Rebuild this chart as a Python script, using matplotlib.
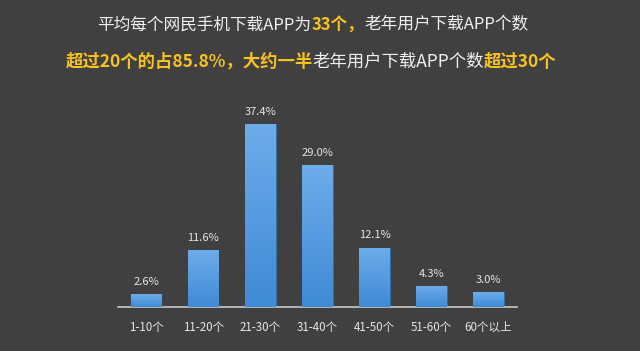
import matplotlib.pyplot as plt
import numpy as np
from matplotlib.colors import LinearSegmentedColormap

plt.rcParams['font.family'] = ['Noto Sans CJK SC', 'DejaVu Sans']

# ---- data ----
categories = ['1-10个', '11-20个', '21-30个', '31-40个', '41-50个', '51-60个', '60个以上']
shares = [2.6, 11.6, 37.4, 29.0, 12.1, 4.3, 3.0]
value_labels = ['2.6%', '11.6%', '37.4%', '29.0%', '12.1%', '4.3%', '3.0%']

BG = '#404040'
YELLOW = '#f7c21e'
WHITE = '#f0f0f0'

fig = plt.figure(figsize=(6.4, 3.51), dpi=100, facecolor=BG)
ax = fig.add_axes([0.184, 0.1254, 0.624, 0.5576])
ax.set_facecolor(BG)

x = np.arange(len(categories))
width = 0.53
bars = ax.bar(x, shares, width=width, color='#4a95da', edgecolor='#2f6fae', linewidth=0.6, zorder=2)

# vertical gradient inside each bar
grad = LinearSegmentedColormap.from_list('g', ['#3f8bd5', '#6dacea'])
gimg = np.linspace(0, 1, 100).reshape(-1, 1)
for b in bars:
    x0, w, h = b.get_x(), b.get_width(), b.get_height()
    im = ax.imshow(gimg, cmap=grad, origin='lower', aspect='auto',
                   extent=(x0, x0 + w, 0, h), zorder=3)
    im.set_clip_path(b)

for xi, v, lab in zip(x, shares, value_labels):
    ax.text(xi, v + 1.5, lab, ha='center', va='bottom', color='#e6e6e6', fontsize=8)

ax.set_xlim(-0.5, 6.5)
ax.set_ylim(0, 40)
for s in ['top', 'right', 'left']:
    ax.spines[s].set_visible(False)
ax.spines['bottom'].set_color('#c8c8c8')
ax.spines['bottom'].set_linewidth(1.2)
ax.set_yticks([])
ax.set_xticks(x)
ax.set_xticklabels(categories, color='#e6e6e6', fontsize=8.3)
ax.tick_params(axis='x', length=0, pad=10)

# ---- title with mixed colours ----
renderer = fig.canvas.get_renderer()


def draw_line(segments, y, size, center_px):
    texts = []
    for txt, col, wt in segments:
        t = fig.text(0, y, txt, color=col, fontsize=size, fontweight=wt,
                     va='center', ha='left')
        texts.append(t)
    widths = [t.get_window_extent(renderer).width for t in texts]
    total = sum(widths)
    fw = fig.bbox.width
    xpos = center_px - total / 2
    for t, w in zip(texts, widths):
        t.set_x(xpos / fw)
        xpos += w


draw_line([('平均每个网民手机下载APP为', WHITE, 'normal'),
           ('33个，', YELLOW, 'bold'),
           ('老年用户下载APP个数', WHITE, 'normal')], 1 - 25 / 351, 12, 313)
draw_line([('超过20个的占85.8%，大约一半', YELLOW, 'bold'),
           ('老年用户下载APP个数', WHITE, 'normal'),
           ('超过30个', YELLOW, 'bold')], 1 - 62 / 351, 12.5, 311)

fig.savefig('out.png', dpi=100, facecolor=BG)
